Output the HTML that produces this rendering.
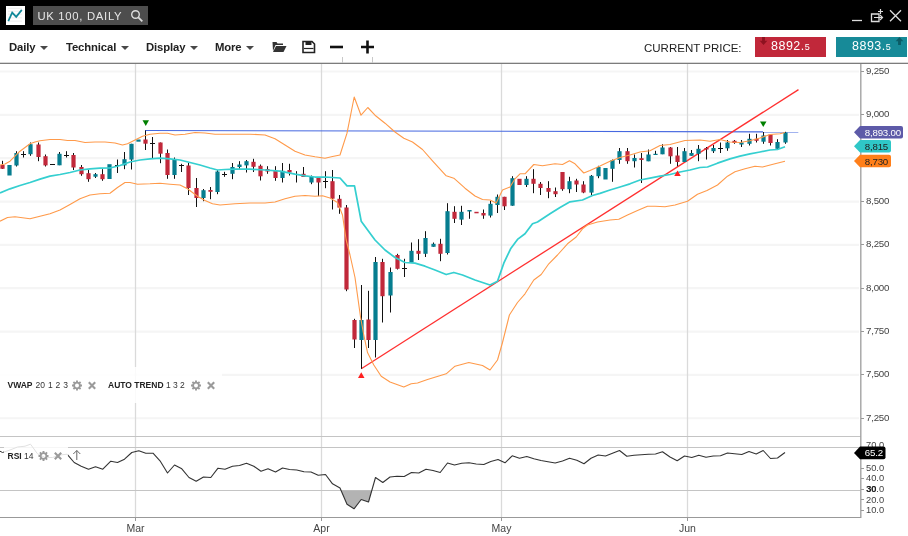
<!DOCTYPE html>
<html lang="en"><head><meta charset="utf-8"><title>UK 100, DAILY</title>
<style>
html,body{margin:0;padding:0;background:#fff;}
body{width:908px;height:536px;position:relative;overflow:hidden;font-family:"Liberation Sans",sans-serif;}
#hdr{position:absolute;left:0;top:0;width:908px;height:30px;background:#000;}
#logo{position:absolute;left:6px;top:6px;width:18.8px;height:18.8px;background:#fff;}
#sym{position:absolute;left:33px;top:6px;width:114.7px;height:18.8px;background:#4d4d4d;color:#e6e6e6;font-size:11.3px;line-height:21px;letter-spacing:0.7px;}
#sym span{position:absolute;left:4.4px;top:0;white-space:nowrap;}
#tb{position:absolute;left:0;top:30px;width:908px;height:32px;background:#fff;border-bottom:1px solid #d8d8d8;}
#tb:after{content:'';position:absolute;left:0;top:33px;width:908px;height:1px;background:#7c7c7c;}
.mi{position:absolute;top:9.6px;letter-spacing:-0.12px;font-size:11.3px;font-weight:bold;color:#222;white-space:nowrap;line-height:14px;}
.mi i{display:inline-block;width:0;height:0;border-left:4.4px solid transparent;border-right:4.4px solid transparent;border-top:4.4px solid #484848;margin-left:4.6px;vertical-align:1px;}
#cp{position:absolute;left:644px;top:11px;font-size:11.5px;color:#222;letter-spacing:0;white-space:nowrap;line-height:14px;}
.btn{position:absolute;top:6.7px;height:20px;color:#fff;font-size:12.5px;line-height:20px;white-space:nowrap;letter-spacing:0.5px;}
.btn small{font-size:9px;}
.lbl{position:absolute;font-size:8.5px;color:#333;white-space:nowrap;line-height:12px;}
.lbl b{color:#222;}
</style></head><body>
<svg id="chart" width="908" height="536" viewBox="0 0 908 536" style="position:absolute;left:0;top:0">
<g stroke="#f5f5f5" stroke-width="2.2">
<line x1="0" y1="418.24" x2="859" y2="418.24"/>
<line x1="0" y1="374.9" x2="859" y2="374.9"/>
<line x1="0" y1="331.56" x2="859" y2="331.56"/>
<line x1="0" y1="288.21" x2="859" y2="288.21"/>
<line x1="0" y1="244.87" x2="859" y2="244.87"/>
<line x1="0" y1="201.53" x2="859" y2="201.53"/>
<line x1="0" y1="158.19" x2="859" y2="158.19"/>
<line x1="0" y1="114.84" x2="859" y2="114.84"/>
<line x1="0" y1="71.5" x2="859" y2="71.5"/>
</g>
<g stroke="#dadada" stroke-width="1.3">
<line x1="135.5" y1="64" x2="135.5" y2="518"/>
<line x1="321.5" y1="64" x2="321.5" y2="518"/>
<line x1="501.5" y1="64" x2="501.5" y2="518"/>
<line x1="687.5" y1="64" x2="687.5" y2="518"/>
</g>
<g stroke="#c4c4c4" stroke-width="1" shape-rendering="crispEdges">
<line x1="0" y1="436.5" x2="861" y2="436.5"/>
<line x1="0" y1="447.5" x2="861" y2="447.5"/>
<line x1="0" y1="490.5" x2="861" y2="490.5"/>
</g>
<g stroke="#999" stroke-width="1" shape-rendering="crispEdges">
</g><line x1="860.8" y1="64" x2="860.8" y2="518" stroke="#a4a4a4" stroke-width="1.4"/><g stroke="#999" stroke-width="1" shape-rendering="crispEdges">
<line x1="0" y1="517.5" x2="861" y2="517.5"/>
<line x1="135.5" y1="517" x2="135.5" y2="521"/>
<line x1="321.5" y1="517" x2="321.5" y2="521"/>
<line x1="501.5" y1="517" x2="501.5" y2="521"/>
<line x1="687.5" y1="517" x2="687.5" y2="521"/>
<line x1="861" y1="418.5" x2="863.5" y2="418.5"/>
<line x1="861" y1="374.5" x2="863.5" y2="374.5"/>
<line x1="861" y1="331.5" x2="863.5" y2="331.5"/>
<line x1="861" y1="288.5" x2="863.5" y2="288.5"/>
<line x1="861" y1="244.5" x2="863.5" y2="244.5"/>
<line x1="861" y1="201.5" x2="863.5" y2="201.5"/>
<line x1="861" y1="158.5" x2="863.5" y2="158.5"/>
<line x1="861" y1="114.5" x2="863.5" y2="114.5"/>
<line x1="861" y1="71.5" x2="863.5" y2="71.5"/>
<line x1="861" y1="510.5" x2="863.5" y2="510.5"/>
<line x1="861" y1="499.5" x2="863.5" y2="499.5"/>
<line x1="861" y1="489.5" x2="863.5" y2="489.5"/>
<line x1="861" y1="478.5" x2="863.5" y2="478.5"/>
<line x1="861" y1="468.5" x2="863.5" y2="468.5"/>
</g>
<line x1="145" y1="130.5" x2="798.3" y2="131.9" stroke="#4668e0" stroke-width="1.15"/>
<line x1="361.25" y1="368.75" x2="798.5" y2="89.6" stroke="#ff3030" stroke-width="1.3"/>
<g>
<line x1="2.5" y1="160.8" x2="2.5" y2="169.0" stroke="#111" stroke-width="1"/>
<rect x="0.4" y="165.0" width="4.2" height="3.8" fill="#c1283a"/>
<rect x="7.4" y="165.0" width="4.2" height="10.5" fill="#067d8f"/>
<line x1="16.5" y1="151.2" x2="16.5" y2="166.5" stroke="#111" stroke-width="1"/>
<rect x="14.4" y="153.0" width="4.2" height="12.5" fill="#067d8f"/>
<line x1="23.5" y1="151.2" x2="23.5" y2="157.5" stroke="#111" stroke-width="1"/>
<line x1="21.0" y1="154.5" x2="26.0" y2="154.5" stroke="#111" stroke-width="1"/>
<line x1="30.5" y1="142.5" x2="30.5" y2="155.8" stroke="#111" stroke-width="1"/>
<rect x="28.4" y="144.2" width="4.2" height="10.0" fill="#067d8f"/>
<line x1="38.5" y1="142.5" x2="38.5" y2="161.2" stroke="#111" stroke-width="1"/>
<rect x="36.4" y="144.5" width="4.2" height="12.5" fill="#c1283a"/>
<line x1="45.5" y1="154.5" x2="45.5" y2="166.5" stroke="#111" stroke-width="1"/>
<rect x="43.4" y="156.2" width="4.2" height="9.2" fill="#c1283a"/>
<line x1="50.0" y1="164.5" x2="55.0" y2="164.5" stroke="#111" stroke-width="1"/>
<line x1="59.5" y1="152.0" x2="59.5" y2="165.2" stroke="#111" stroke-width="1"/>
<rect x="57.4" y="153.8" width="4.2" height="11.5" fill="#067d8f"/>
<line x1="66.5" y1="151.2" x2="66.5" y2="157.5" stroke="#111" stroke-width="1"/>
<line x1="64.0" y1="155.5" x2="69.0" y2="155.5" stroke="#111" stroke-width="1"/>
<line x1="73.5" y1="153.0" x2="73.5" y2="170.0" stroke="#111" stroke-width="1"/>
<rect x="71.4" y="155.0" width="4.2" height="12.5" fill="#c1283a"/>
<line x1="81.5" y1="165.0" x2="81.5" y2="175.8" stroke="#111" stroke-width="1"/>
<rect x="79.4" y="167.0" width="4.2" height="7.2" fill="#c1283a"/>
<line x1="88.5" y1="170.0" x2="88.5" y2="181.8" stroke="#111" stroke-width="1"/>
<rect x="86.4" y="173.2" width="4.2" height="6.0" fill="#c1283a"/>
<line x1="95.5" y1="173.0" x2="95.5" y2="178.0" stroke="#111" stroke-width="1"/>
<rect x="93.4" y="174.2" width="4.2" height="2.5" fill="#067d8f"/>
<line x1="102.5" y1="169.2" x2="102.5" y2="180.8" stroke="#111" stroke-width="1"/>
<rect x="100.4" y="174.2" width="4.2" height="5.0" fill="#c1283a"/>
<rect x="107.4" y="164.2" width="4.2" height="14.8" fill="#067d8f"/>
<line x1="117.5" y1="159.5" x2="117.5" y2="173.0" stroke="#111" stroke-width="1"/>
<line x1="115.0" y1="165.5" x2="120.0" y2="165.5" stroke="#111" stroke-width="1"/>
<line x1="124.5" y1="152.0" x2="124.5" y2="169.2" stroke="#111" stroke-width="1"/>
<rect x="122.4" y="159.2" width="4.2" height="6.2" fill="#067d8f"/>
<line x1="131.5" y1="143.8" x2="131.5" y2="169.5" stroke="#111" stroke-width="1"/>
<rect x="129.4" y="143.8" width="4.2" height="15.8" fill="#067d8f"/>
<rect x="136.4" y="139.5" width="4.2" height="2.2" fill="#067d8f"/>
<line x1="145.5" y1="130.5" x2="145.5" y2="150.0" stroke="#111" stroke-width="1"/>
<rect x="143.4" y="139.5" width="4.2" height="4.2" fill="#c1283a"/>
<line x1="152.5" y1="137.0" x2="152.5" y2="158.2" stroke="#111" stroke-width="1"/>
<line x1="150.0" y1="143.5" x2="155.0" y2="143.5" stroke="#111" stroke-width="1"/>
<line x1="160.5" y1="142.5" x2="160.5" y2="163.2" stroke="#111" stroke-width="1"/>
<rect x="158.4" y="142.5" width="4.2" height="11.2" fill="#c1283a"/>
<line x1="167.5" y1="149.5" x2="167.5" y2="178.8" stroke="#111" stroke-width="1"/>
<rect x="165.4" y="153.0" width="4.2" height="22.0" fill="#c1283a"/>
<line x1="174.5" y1="157.5" x2="174.5" y2="178.8" stroke="#111" stroke-width="1"/>
<rect x="172.4" y="159.2" width="4.2" height="15.8" fill="#067d8f"/>
<line x1="181.5" y1="163.8" x2="181.5" y2="172.0" stroke="#111" stroke-width="1"/>
<line x1="179.0" y1="165.5" x2="184.0" y2="165.5" stroke="#111" stroke-width="1"/>
<line x1="188.5" y1="163.0" x2="188.5" y2="195.0" stroke="#111" stroke-width="1"/>
<rect x="186.4" y="165.5" width="4.2" height="22.5" fill="#c1283a"/>
<line x1="196.5" y1="178.0" x2="196.5" y2="207.0" stroke="#111" stroke-width="1"/>
<rect x="194.4" y="188.0" width="4.2" height="10.0" fill="#c1283a"/>
<line x1="203.5" y1="189.0" x2="203.5" y2="201.2" stroke="#111" stroke-width="1"/>
<rect x="201.4" y="190.2" width="4.2" height="7.8" fill="#067d8f"/>
<line x1="210.5" y1="187.0" x2="210.5" y2="199.2" stroke="#111" stroke-width="1"/>
<rect x="208.4" y="190.0" width="4.2" height="1.8" fill="#c1283a"/>
<line x1="217.5" y1="170.0" x2="217.5" y2="194.2" stroke="#111" stroke-width="1"/>
<rect x="215.4" y="171.5" width="4.2" height="20.5" fill="#067d8f"/>
<line x1="224.5" y1="171.8" x2="224.5" y2="176.8" stroke="#111" stroke-width="1"/>
<line x1="222.0" y1="174.5" x2="227.0" y2="174.5" stroke="#111" stroke-width="1"/>
<line x1="232.5" y1="163.0" x2="232.5" y2="179.2" stroke="#111" stroke-width="1"/>
<rect x="230.4" y="167.0" width="4.2" height="6.8" fill="#067d8f"/>
<line x1="239.5" y1="161.2" x2="239.5" y2="168.8" stroke="#111" stroke-width="1"/>
<rect x="237.4" y="164.5" width="4.2" height="2.5" fill="#067d8f"/>
<line x1="246.5" y1="160.0" x2="246.5" y2="172.5" stroke="#111" stroke-width="1"/>
<rect x="244.4" y="161.2" width="4.2" height="4.2" fill="#067d8f"/>
<line x1="253.5" y1="158.8" x2="253.5" y2="172.0" stroke="#111" stroke-width="1"/>
<rect x="251.4" y="161.8" width="4.2" height="5.0" fill="#c1283a"/>
<line x1="260.5" y1="164.5" x2="260.5" y2="180.5" stroke="#111" stroke-width="1"/>
<rect x="258.4" y="165.8" width="4.2" height="10.5" fill="#c1283a"/>
<line x1="267.5" y1="166.2" x2="267.5" y2="173.8" stroke="#111" stroke-width="1"/>
<rect x="265.4" y="169.0" width="4.2" height="2.5" fill="#c1283a"/>
<line x1="275.5" y1="166.2" x2="275.5" y2="180.8" stroke="#111" stroke-width="1"/>
<rect x="273.4" y="170.8" width="4.2" height="7.2" fill="#c1283a"/>
<line x1="282.5" y1="163.0" x2="282.5" y2="182.5" stroke="#111" stroke-width="1"/>
<rect x="280.4" y="170.8" width="4.2" height="7.2" fill="#067d8f"/>
<line x1="289.5" y1="163.8" x2="289.5" y2="175.5" stroke="#111" stroke-width="1"/>
<rect x="287.4" y="170.0" width="4.2" height="2.5" fill="#c1283a"/>
<line x1="296.5" y1="171.2" x2="296.5" y2="182.5" stroke="#111" stroke-width="1"/>
<line x1="303.5" y1="167.0" x2="303.5" y2="177.0" stroke="#111" stroke-width="1"/>
<rect x="301.4" y="173.8" width="4.2" height="3.2" fill="#c1283a"/>
<line x1="311.5" y1="175.5" x2="311.5" y2="184.2" stroke="#111" stroke-width="1"/>
<rect x="309.4" y="177.0" width="4.2" height="5.5" fill="#067d8f"/>
<line x1="318.5" y1="177.5" x2="318.5" y2="196.2" stroke="#111" stroke-width="1"/>
<rect x="316.4" y="177.5" width="4.2" height="5.0" fill="#c1283a"/>
<line x1="325.5" y1="171.2" x2="325.5" y2="188.2" stroke="#111" stroke-width="1"/>
<line x1="323.0" y1="181.5" x2="328.0" y2="181.5" stroke="#111" stroke-width="1"/>
<line x1="332.5" y1="170.0" x2="332.5" y2="209.5" stroke="#111" stroke-width="1"/>
<rect x="330.4" y="181.2" width="4.2" height="17.5" fill="#c1283a"/>
<line x1="339.5" y1="195.0" x2="339.5" y2="213.8" stroke="#111" stroke-width="1"/>
<rect x="337.4" y="198.8" width="4.2" height="8.8" fill="#c1283a"/>
<line x1="346.5" y1="205.0" x2="346.5" y2="291.2" stroke="#111" stroke-width="1"/>
<rect x="344.4" y="207.5" width="4.2" height="82.0" fill="#c1283a"/>
<line x1="354.5" y1="318.8" x2="354.5" y2="348.0" stroke="#111" stroke-width="1"/>
<rect x="352.4" y="320.0" width="4.2" height="19.5" fill="#c1283a"/>
<line x1="361.5" y1="285.0" x2="361.5" y2="368.8" stroke="#111" stroke-width="1"/>
<rect x="359.4" y="320.0" width="4.2" height="20.0" fill="#067d8f"/>
<line x1="368.5" y1="290.8" x2="368.5" y2="348.0" stroke="#111" stroke-width="1"/>
<rect x="366.4" y="319.5" width="4.2" height="20.5" fill="#c1283a"/>
<line x1="375.5" y1="257.0" x2="375.5" y2="357.5" stroke="#111" stroke-width="1"/>
<rect x="373.4" y="262.0" width="4.2" height="78.0" fill="#067d8f"/>
<line x1="382.5" y1="258.8" x2="382.5" y2="322.5" stroke="#111" stroke-width="1"/>
<rect x="380.4" y="262.0" width="4.2" height="34.2" fill="#c1283a"/>
<line x1="390.5" y1="267.5" x2="390.5" y2="312.5" stroke="#111" stroke-width="1"/>
<rect x="388.4" y="272.0" width="4.2" height="23.5" fill="#067d8f"/>
<line x1="397.5" y1="253.8" x2="397.5" y2="269.5" stroke="#111" stroke-width="1"/>
<rect x="395.4" y="255.0" width="4.2" height="13.8" fill="#c1283a"/>
<line x1="404.5" y1="258.8" x2="404.5" y2="277.0" stroke="#111" stroke-width="1"/>
<line x1="402.0" y1="268.5" x2="407.0" y2="268.5" stroke="#111" stroke-width="1"/>
<line x1="411.5" y1="242.5" x2="411.5" y2="262.5" stroke="#111" stroke-width="1"/>
<rect x="409.4" y="250.8" width="4.2" height="11.8" fill="#067d8f"/>
<line x1="418.5" y1="239.2" x2="418.5" y2="260.0" stroke="#111" stroke-width="1"/>
<rect x="416.4" y="250.8" width="4.2" height="3.0" fill="#c1283a"/>
<line x1="425.5" y1="231.2" x2="425.5" y2="257.0" stroke="#111" stroke-width="1"/>
<rect x="423.4" y="238.0" width="4.2" height="15.8" fill="#067d8f"/>
<line x1="433.5" y1="242.5" x2="433.5" y2="246.8" stroke="#111" stroke-width="1"/>
<rect x="431.4" y="243.8" width="4.2" height="3.0" fill="#067d8f"/>
<line x1="440.5" y1="238.8" x2="440.5" y2="261.2" stroke="#111" stroke-width="1"/>
<rect x="438.4" y="243.8" width="4.2" height="10.0" fill="#c1283a"/>
<line x1="447.5" y1="203.2" x2="447.5" y2="254.5" stroke="#111" stroke-width="1"/>
<rect x="445.4" y="211.2" width="4.2" height="41.8" fill="#067d8f"/>
<line x1="454.5" y1="206.2" x2="454.5" y2="223.0" stroke="#111" stroke-width="1"/>
<rect x="452.4" y="211.8" width="4.2" height="7.0" fill="#c1283a"/>
<line x1="461.5" y1="205.8" x2="461.5" y2="225.0" stroke="#111" stroke-width="1"/>
<rect x="459.4" y="211.8" width="4.2" height="7.8" fill="#067d8f"/>
<line x1="469.5" y1="210.0" x2="469.5" y2="218.8" stroke="#111" stroke-width="1"/>
<rect x="467.4" y="210.0" width="4.2" height="1.5" fill="#067d8f"/>
<rect x="474.4" y="211.8" width="4.2" height="1.5" fill="#c1283a"/>
<line x1="483.5" y1="209.5" x2="483.5" y2="218.8" stroke="#111" stroke-width="1"/>
<rect x="481.4" y="213.0" width="4.2" height="2.5" fill="#c1283a"/>
<line x1="490.5" y1="200.8" x2="490.5" y2="217.5" stroke="#111" stroke-width="1"/>
<rect x="488.4" y="203.8" width="4.2" height="11.8" fill="#067d8f"/>
<line x1="497.5" y1="194.5" x2="497.5" y2="213.0" stroke="#111" stroke-width="1"/>
<rect x="495.4" y="196.8" width="4.2" height="8.2" fill="#067d8f"/>
<line x1="504.5" y1="196.8" x2="504.5" y2="210.0" stroke="#111" stroke-width="1"/>
<rect x="502.4" y="196.8" width="4.2" height="9.5" fill="#c1283a"/>
<line x1="512.5" y1="176.2" x2="512.5" y2="205.8" stroke="#111" stroke-width="1"/>
<rect x="510.4" y="178.2" width="4.2" height="27.5" fill="#067d8f"/>
<rect x="517.4" y="178.8" width="4.2" height="6.2" fill="#c1283a"/>
<line x1="526.5" y1="176.2" x2="526.5" y2="187.0" stroke="#111" stroke-width="1"/>
<rect x="524.4" y="178.8" width="4.2" height="6.2" fill="#067d8f"/>
<line x1="533.5" y1="169.2" x2="533.5" y2="193.2" stroke="#111" stroke-width="1"/>
<rect x="531.4" y="178.8" width="4.2" height="5.0" fill="#c1283a"/>
<line x1="540.5" y1="182.0" x2="540.5" y2="195.0" stroke="#111" stroke-width="1"/>
<rect x="538.4" y="183.8" width="4.2" height="4.2" fill="#c1283a"/>
<line x1="548.5" y1="181.2" x2="548.5" y2="198.2" stroke="#111" stroke-width="1"/>
<rect x="546.4" y="188.0" width="4.2" height="3.8" fill="#c1283a"/>
<line x1="555.5" y1="187.5" x2="555.5" y2="197.0" stroke="#111" stroke-width="1"/>
<rect x="553.4" y="191.2" width="4.2" height="3.0" fill="#c1283a"/>
<line x1="562.5" y1="172.0" x2="562.5" y2="190.8" stroke="#111" stroke-width="1"/>
<rect x="560.4" y="172.0" width="4.2" height="17.2" fill="#c1283a"/>
<line x1="569.5" y1="176.8" x2="569.5" y2="193.2" stroke="#111" stroke-width="1"/>
<rect x="567.4" y="181.2" width="4.2" height="8.0" fill="#067d8f"/>
<line x1="576.5" y1="178.8" x2="576.5" y2="192.0" stroke="#111" stroke-width="1"/>
<rect x="574.4" y="180.5" width="4.2" height="4.0" fill="#c1283a"/>
<line x1="583.5" y1="181.2" x2="583.5" y2="193.2" stroke="#111" stroke-width="1"/>
<rect x="581.4" y="184.5" width="4.2" height="8.0" fill="#c1283a"/>
<line x1="591.5" y1="175.0" x2="591.5" y2="195.0" stroke="#111" stroke-width="1"/>
<rect x="589.4" y="175.8" width="4.2" height="16.8" fill="#067d8f"/>
<line x1="598.5" y1="165.8" x2="598.5" y2="178.2" stroke="#111" stroke-width="1"/>
<rect x="596.4" y="167.0" width="4.2" height="9.2" fill="#067d8f"/>
<rect x="603.4" y="168.0" width="4.2" height="11.5" fill="#067d8f"/>
<line x1="612.5" y1="159.5" x2="612.5" y2="181.8" stroke="#111" stroke-width="1"/>
<rect x="610.4" y="160.0" width="4.2" height="8.8" fill="#067d8f"/>
<line x1="619.5" y1="148.0" x2="619.5" y2="163.8" stroke="#111" stroke-width="1"/>
<rect x="617.4" y="151.2" width="4.2" height="8.8" fill="#067d8f"/>
<line x1="627.5" y1="148.0" x2="627.5" y2="163.8" stroke="#111" stroke-width="1"/>
<rect x="625.4" y="151.2" width="4.2" height="10.0" fill="#c1283a"/>
<line x1="634.5" y1="154.5" x2="634.5" y2="167.5" stroke="#111" stroke-width="1"/>
<rect x="632.4" y="158.0" width="4.2" height="3.2" fill="#067d8f"/>
<line x1="641.5" y1="153.0" x2="641.5" y2="183.0" stroke="#111" stroke-width="1"/>
<rect x="639.4" y="158.2" width="4.2" height="1.8" fill="#c1283a"/>
<line x1="648.5" y1="149.5" x2="648.5" y2="161.2" stroke="#111" stroke-width="1"/>
<rect x="646.4" y="154.5" width="4.2" height="6.8" fill="#067d8f"/>
<line x1="655.5" y1="150.8" x2="655.5" y2="155.0" stroke="#111" stroke-width="1"/>
<rect x="653.4" y="153.8" width="4.2" height="1.2" fill="#067d8f"/>
<line x1="662.5" y1="144.2" x2="662.5" y2="154.2" stroke="#111" stroke-width="1"/>
<rect x="660.4" y="147.5" width="4.2" height="6.8" fill="#067d8f"/>
<line x1="670.5" y1="147.0" x2="670.5" y2="163.8" stroke="#111" stroke-width="1"/>
<rect x="668.4" y="147.5" width="4.2" height="8.8" fill="#c1283a"/>
<line x1="677.5" y1="147.0" x2="677.5" y2="166.2" stroke="#111" stroke-width="1"/>
<rect x="675.4" y="155.5" width="4.2" height="6.5" fill="#c1283a"/>
<line x1="684.5" y1="148.0" x2="684.5" y2="162.0" stroke="#111" stroke-width="1"/>
<rect x="682.4" y="151.2" width="4.2" height="10.8" fill="#067d8f"/>
<line x1="691.5" y1="150.0" x2="691.5" y2="155.8" stroke="#111" stroke-width="1"/>
<rect x="689.4" y="153.0" width="4.2" height="2.8" fill="#067d8f"/>
<line x1="698.5" y1="145.0" x2="698.5" y2="161.2" stroke="#111" stroke-width="1"/>
<rect x="696.4" y="148.8" width="4.2" height="5.0" fill="#067d8f"/>
<line x1="706.5" y1="147.0" x2="706.5" y2="159.5" stroke="#111" stroke-width="1"/>
<rect x="704.4" y="148.0" width="4.2" height="1.5" fill="#c1283a"/>
<line x1="713.5" y1="145.0" x2="713.5" y2="153.0" stroke="#111" stroke-width="1"/>
<rect x="711.4" y="148.0" width="4.2" height="3.2" fill="#067d8f"/>
<line x1="720.5" y1="142.5" x2="720.5" y2="153.0" stroke="#111" stroke-width="1"/>
<line x1="718.0" y1="148.5" x2="723.0" y2="148.5" stroke="#111" stroke-width="1"/>
<line x1="727.5" y1="140.0" x2="727.5" y2="150.8" stroke="#111" stroke-width="1"/>
<rect x="725.4" y="142.5" width="4.2" height="5.8" fill="#067d8f"/>
<line x1="734.5" y1="140.0" x2="734.5" y2="143.8" stroke="#111" stroke-width="1"/>
<rect x="732.4" y="140.8" width="4.2" height="2.2" fill="#c1283a"/>
<line x1="741.5" y1="140.0" x2="741.5" y2="147.0" stroke="#111" stroke-width="1"/>
<rect x="739.4" y="142.5" width="4.2" height="2.0" fill="#067d8f"/>
<line x1="749.5" y1="133.8" x2="749.5" y2="145.5" stroke="#111" stroke-width="1"/>
<rect x="747.4" y="138.8" width="4.2" height="5.0" fill="#067d8f"/>
<line x1="756.5" y1="133.8" x2="756.5" y2="142.5" stroke="#111" stroke-width="1"/>
<rect x="754.4" y="138.8" width="4.2" height="2.0" fill="#c1283a"/>
<line x1="763.5" y1="132.0" x2="763.5" y2="143.8" stroke="#111" stroke-width="1"/>
<rect x="761.4" y="135.5" width="4.2" height="6.2" fill="#067d8f"/>
<line x1="770.5" y1="134.5" x2="770.5" y2="145.5" stroke="#111" stroke-width="1"/>
<rect x="768.4" y="134.5" width="4.2" height="8.5" fill="#c1283a"/>
<line x1="777.5" y1="139.2" x2="777.5" y2="150.0" stroke="#111" stroke-width="1"/>
<rect x="775.4" y="142.0" width="4.2" height="6.8" fill="#067d8f"/>
<line x1="785.5" y1="131.8" x2="785.5" y2="143.8" stroke="#111" stroke-width="1"/>
<rect x="783.4" y="132.5" width="4.2" height="10.0" fill="#067d8f"/>
</g>
<path d="M0.0,165.0 L5.0,164.0 L10.0,161.2 L15.0,156.2 L20.0,151.2 L25.0,147.5 L30.0,143.8 L35.0,142.0 L40.0,140.8 L50.0,139.5 L60.0,139.5 L67.5,140.5 L75.0,140.5 L85.0,142.5 L95.0,142.0 L105.0,142.0 L115.0,143.0 L122.5,145.0 L127.5,143.8 L135.0,140.0 L142.5,136.2 L150.0,134.2 L160.0,133.2 L167.5,133.2 L175.0,135.0 L185.0,134.2 L195.0,132.5 L205.0,133.0 L215.0,134.2 L225.0,134.2 L235.0,134.2 L250.0,134.2 L265.0,135.0 L275.0,138.8 L285.0,145.0 L295.0,151.2 L305.0,155.0 L315.0,156.8 L320.0,157.5 L325.0,158.2 L332.5,156.5 L340.0,155.0 L347.0,133.2 L354.2,97.0 L361.0,115.2 L367.8,107.5 L375.0,115.2 L385.0,123.2 L395.0,132.0 L403.8,138.2 L412.5,142.0 L422.5,149.5 L432.5,160.8 L446.2,175.8 L453.8,178.2 L465.0,188.2 L475.0,196.0 L482.5,199.5 L490.0,200.0 L496.2,203.0 L502.5,190.0 L510.0,187.0 L515.0,178.8 L520.0,173.8 L525.0,173.8 L533.8,164.5 L542.5,165.8 L555.0,163.8 L562.5,164.5 L569.5,160.8 L575.0,163.8 L583.8,173.0 L590.0,170.5 L600.0,166.0 L610.0,161.2 L620.0,157.5 L630.0,155.0 L640.0,152.0 L650.0,150.8 L660.0,145.5 L670.0,144.5 L685.0,140.5 L700.0,140.0 L710.0,141.2 L720.0,139.5 L730.0,142.0 L740.0,142.5 L750.0,140.8 L760.0,138.0 L770.0,134.5 L780.0,133.8 L785.0,132.5" fill="none" stroke="#ff9a4a" stroke-width="1.1" stroke-linejoin="round"/>
<path d="M0.0,221.2 L7.5,217.5 L15.0,216.8 L30.0,218.8 L40.0,216.2 L50.0,213.8 L60.0,210.0 L70.0,204.5 L80.0,198.8 L90.0,195.0 L100.0,193.8 L110.0,193.2 L117.5,187.5 L125.0,182.5 L130.0,182.5 L137.5,184.2 L150.0,183.8 L160.0,183.2 L170.0,184.2 L180.0,185.0 L187.5,188.8 L197.5,196.2 L205.0,200.5 L212.5,203.8 L220.0,205.0 L235.0,203.8 L250.0,203.0 L265.0,203.0 L275.0,202.0 L285.0,198.8 L295.0,196.2 L305.0,195.5 L315.0,196.2 L322.5,195.8 L330.0,198.0 L337.5,202.5 L342.5,215.0 L346.2,240.0 L350.0,255.0 L355.0,277.5 L360.6,317.5 L363.8,335.0 L367.5,352.5 L373.8,365.0 L381.2,376.2 L390.0,382.0 L403.8,387.0 L411.2,383.8 L417.5,383.0 L427.5,379.5 L446.2,373.8 L455.0,366.2 L468.8,362.5 L482.5,365.5 L490.0,370.0 L497.5,360.0 L502.5,342.5 L509.4,315.0 L517.5,302.5 L525.0,293.8 L533.8,280.0 L541.2,274.5 L548.8,263.8 L557.5,255.0 L567.5,243.8 L576.2,237.0 L582.5,228.8 L587.5,225.0 L597.5,222.0 L610.0,220.0 L618.8,219.2 L627.5,215.0 L637.5,210.5 L647.5,206.2 L655.0,206.2 L665.0,206.8 L675.0,205.0 L687.5,201.2 L697.5,194.2 L707.0,190.5 L717.5,185.0 L727.5,176.2 L735.0,171.8 L745.0,168.8 L755.0,166.2 L762.5,167.0 L775.0,163.8 L785.0,161.2" fill="none" stroke="#ff9a4a" stroke-width="1.1" stroke-linejoin="round"/>
<path d="M0.0,193.0 L10.0,188.8 L20.0,185.5 L30.0,182.5 L40.0,179.2 L50.0,176.2 L60.0,174.5 L70.0,172.5 L80.0,170.0 L90.0,168.8 L100.0,168.2 L110.0,168.0 L120.0,165.5 L130.0,162.0 L140.0,160.0 L150.0,158.8 L160.0,158.2 L170.0,158.8 L180.0,160.0 L190.0,162.5 L200.0,165.0 L210.0,168.0 L217.5,170.0 L225.0,169.5 L235.0,169.2 L250.0,169.2 L265.0,170.0 L280.0,171.2 L295.0,174.2 L305.0,175.8 L315.0,177.0 L325.0,177.0 L340.0,178.0 L347.0,185.8 L354.5,185.8 L361.2,221.2 L375.0,240.0 L385.0,250.0 L395.0,257.5 L405.0,262.5 L415.0,263.2 L425.0,266.2 L435.0,270.0 L446.2,274.5 L453.8,272.5 L462.5,275.0 L475.0,280.0 L490.0,285.0 L497.5,281.2 L503.8,263.2 L510.6,248.8 L517.5,239.4 L525.0,233.8 L532.5,223.8 L537.5,222.0 L550.0,213.8 L560.0,207.5 L570.0,201.8 L582.5,200.0 L592.5,195.5 L600.0,193.4 L610.0,190.0 L620.0,187.0 L630.0,183.8 L640.0,180.0 L650.0,178.2 L660.0,176.2 L670.0,174.5 L680.0,172.0 L690.0,170.0 L700.0,167.5 L707.5,167.0 L717.5,163.2 L730.0,158.8 L740.0,156.2 L750.0,153.8 L760.0,152.0 L770.0,150.0 L777.5,149.5 L785.0,146.8" fill="none" stroke="#35cfd0" stroke-width="1.75" stroke-linejoin="round"/>
<path d="M142.5,120.3 L149.0,120.3 L145.75,126 Z" fill="#008000"/>
<path d="M760.0,121.5 L766.5,121.5 L763.25,127 Z" fill="#008000"/>
<path d="M358.0,378 L364.5,378 L361.25,372.3 Z" fill="#ff2020"/>
<path d="M674.25,176 L680.75,176 L677.5,170.5 Z" fill="#ff2020"/>
<path d="M341.1,490.5 L347.0,504.2 L354.0,508.8 L361.2,499.5 L368.5,502.0 L371.8,490.5 Z" fill="#b3b3b3"/>
<path d="M0.0,451.2 L2.5,452.5 L10.0,450.0 L17.5,447.0 L25.0,446.2 L30.5,444.2 L37.5,453.8 L45.0,457.5 L52.5,457.5 L60.0,455.0 L67.0,454.2" fill="none" stroke="#333" stroke-width="1"/>
<path d="M67.0,454.2 L74.2,462.5 L81.2,466.2 L88.5,469.2 L95.5,466.8 L102.8,469.2 L110.8,461.2 L117.5,462.5 L124.5,459.2 L131.8,452.5 L138.8,450.8 L145.8,453.2 L153.0,453.2 L160.0,460.8 L167.5,473.0 L174.5,465.0 L181.8,468.8 L189.0,477.5 L196.2,481.2 L203.5,477.0 L210.8,477.5 L218.0,468.2 L225.0,469.2 L232.5,466.2 L239.5,465.5 L246.5,463.2 L253.8,466.2 L261.0,471.2 L268.0,468.8 L275.5,472.0 L282.5,468.0 L289.5,469.5 L296.8,470.0 L304.0,471.8 L311.0,472.0 L318.2,475.2 L325.5,474.5 L332.5,483.8 L340.0,488.0 L347.0,504.2 L354.0,508.8 L361.2,499.5 L368.5,502.0 L375.5,477.5 L382.8,482.5 L390.0,477.0 L397.0,476.2 L404.2,476.5 L411.5,472.5 L418.8,473.0 L426.0,469.2 L433.0,470.5 L440.2,472.5 L447.5,463.0 L454.5,465.0 L461.8,463.2 L469.0,462.8 L476.2,464.0 L483.8,464.5 L490.8,461.5 L498.0,459.5 L505.0,462.8 L512.2,455.8 L519.5,458.2 L526.8,456.5 L533.8,458.8 L541.0,460.5 L548.0,461.8 L555.2,463.0 L562.5,461.0 L569.5,458.2 L576.8,460.2 L584.0,463.8 L591.0,458.2 L598.2,455.0 L605.5,456.0 L612.5,453.2 L619.5,450.5 L626.8,456.2 L634.0,455.2 L648.5,454.2 L655.5,454.0 L662.5,451.8 L670.0,457.0 L677.2,460.8 L684.5,456.0 L691.8,457.5 L698.8,455.2 L706.0,457.2 L713.2,456.0 L720.5,455.8 L727.5,453.0 L734.5,453.8 L741.8,454.5 L749.0,451.5 L756.2,454.0 L763.2,450.5 L770.5,458.5 L777.5,458.0 L785.0,452.5" fill="none" stroke="#333" stroke-width="1.1" stroke-linejoin="round"/>
<g font-family="Liberation Sans, sans-serif" font-size="9.7" fill="#444" letter-spacing="-0.2">
<text x="866" y="420.7">7,250</text>
<text x="866" y="377.4">7,500</text>
<text x="866" y="334.1">7,750</text>
<text x="866" y="290.7">8,000</text>
<text x="866" y="247.4">8,250</text>
<text x="866" y="204.0">8,500</text>
<text x="866" y="160.7">8,750</text>
<text x="866" y="117.3">9,000</text>
<text x="866" y="74.0">9,250</text>
<text x="866" y="513.0" font-size="9.3" letter-spacing="0">10.0</text>
<text x="866" y="502.5" font-size="9.3" letter-spacing="0">20.0</text>
<text x="866" y="491.9" font-size="9.3" letter-spacing="0">30.0</text>
<text x="866" y="481.4" font-size="9.3" letter-spacing="0">40.0</text>
<text x="866" y="470.8" font-size="9.3" letter-spacing="0">50.0</text>
<text x="866" y="448.3" font-size="9.3" letter-spacing="0">70.0</text>
<text x="866.2" y="491.9" font-size="9.3" letter-spacing="0" font-weight="bold" fill="#222">30</text>
<text x="135.5" y="532.4" font-size="10.5" letter-spacing="0" text-anchor="middle">Mar</text>
<text x="321.5" y="532.4" font-size="10.5" letter-spacing="0" text-anchor="middle">Apr</text>
<text x="501.5" y="532.4" font-size="10.5" letter-spacing="0" text-anchor="middle">May</text>
<text x="687.5" y="532.4" font-size="10.5" letter-spacing="0" text-anchor="middle">Jun</text>
</g>
<path d="M854,132.3 L860,126.0 L901,126.0 Q903,126.0 903,128.0 L903,136.6 Q903,138.6 901,138.6 L860,138.6 Z" fill="#5d5aa8"/>
<text x="864.8" y="135.8" font-family="Liberation Sans, sans-serif" font-size="9.7" letter-spacing="-0.2" fill="#fff">8,893.00</text>
<path d="M854,146.2 L860,139.9 L889,139.9 Q891,139.9 891,141.9 L891,150.5 Q891,152.5 889,152.5 L860,152.5 Z" fill="#2fc7c7"/>
<text x="864.8" y="149.7" font-family="Liberation Sans, sans-serif" font-size="9.7" letter-spacing="-0.2" fill="#222">8,815</text>
<path d="M854,161.0 L860,154.7 L889,154.7 Q891,154.7 891,156.7 L891,165.3 Q891,167.3 889,167.3 L860,167.3 Z" fill="#ff7f1a"/>
<text x="864.8" y="164.5" font-family="Liberation Sans, sans-serif" font-size="9.7" letter-spacing="-0.2" fill="#222">8,730</text>
<path d="M854,452.9 L860,446.6 L883.5,446.6 Q885.5,446.6 885.5,448.6 L885.5,457.2 Q885.5,459.2 883.5,459.2 L860,459.2 Z" fill="#000"/>
<text x="864.8" y="456.4" font-family="Liberation Sans, sans-serif" font-size="9.7" letter-spacing="-0.2" fill="#fff">65.2</text>
</svg>
<div id="hdr">
 <div id="logo"><svg width="19" height="19" viewBox="0 0 19 19" style="position:absolute;left:0;top:0"><path d="M2,2.3 H16 M2,5.2 H16 M2,8.2 H16 M2,11.8 H16 M2,15.1 H16" stroke="#e9e9e9" stroke-width="0.8"/><path d="M2.3,15.1 L6.2,6.6 L10.2,10.9 L15.8,3.9" fill="none" stroke="#118899" stroke-width="1.7" stroke-linejoin="miter"/></svg></div>
 <div id="sym"><span>UK 100, DAILY</span>
  <svg style="position:absolute;left:96.5px;top:2.5px" width="14" height="14" viewBox="0 0 14 14"><circle cx="5.5" cy="5.5" r="3.8" fill="none" stroke="#ddd" stroke-width="1.4"/><path d="M8.3,8.3 L12.3,12.3" stroke="#ddd" stroke-width="1.8"/></svg>
 </div>
 <svg style="position:absolute;left:847.5px;top:6.5px" width="60" height="20" viewBox="0 0 60 20">
  <path d="M4,13.5 H14" stroke="#ddd" stroke-width="1.3"/>
  <g transform="translate(-1,-0.5)"><path d="M24.5,7.5 H32 V15 H24.5 Z" fill="none" stroke="#ddd" stroke-width="1.3"/><path d="M27,11 H35 M33,8.5 L35.5,11 L33,13.5" fill="none" stroke="#ddd" stroke-width="1.2"/><path d="M33.5,2.5 V7.5 M31,5 H36" stroke="#ddd" stroke-width="1.2"/></g>
  <path d="M42,3.2 L53,14.2 M53,3.2 L42,14.2" stroke="#ddd" stroke-width="1.3"/>
 </svg>
</div>
<div id="tb">
 <div class="mi" style="left:9px">Daily<i></i></div>
 <div class="mi" style="left:66px">Technical<i></i></div>
 <div class="mi" style="left:146px">Display<i></i></div>
 <div class="mi" style="left:215px">More<i></i></div>
 <svg style="position:absolute;left:270px;top:8px" width="110" height="18" viewBox="0 0 110 18">
  <path d="M2.5,4 H6.5 L7.5,5.5 H13 V7 H5.5 L3,13 Z" fill="#333"/><path d="M6,8 H16.5 L13.5,14 H3 Z" fill="#333"/>
  <path d="M33,3.5 H42 L44.5,6 V14.5 H33 Z" fill="none" stroke="#222" stroke-width="1.6"/><path d="M35.5,3.5 H41.5 V7 H35.5 Z" fill="#222"/><path d="M34,10.5 H43.5" stroke="#222" stroke-width="1.2"/>
  <path d="M60,9 H73" stroke="#111" stroke-width="2.6"/>
  <path d="M91,9 H104 M97.5,2.5 V15.5" stroke="#111" stroke-width="2.6"/>
 </svg>
 <div style="position:absolute;left:342px;top:27px;width:1px;height:6px;background:#c8c8c8"></div>
 <div style="position:absolute;left:372px;top:27px;width:1px;height:6px;background:#c8c8c8"></div>
 <div id="cp">CURRENT PRICE:</div>
 <div class="btn" style="left:755px;width:71px;background:#c1283a"><span style="position:absolute;left:16px;top:-1px">8892.<small>5</small></span>
  <svg style="position:absolute;left:4px;top:0.3px" width="9" height="8.6" viewBox="0 0 9 9"><path d="M3,0 H6 V4 H8.5 L4.5,8.5 L0.5,4 H3 Z" fill="#8e1220"/></svg></div>
 <div class="btn" style="left:836px;width:71px;background:#178a98"><span style="position:absolute;left:16px;top:-1px">8893.<small>5</small></span>
  <svg style="position:absolute;left:58.5px;top:0.3px" width="9" height="8.6" viewBox="0 0 9 9"><path d="M3,8.5 H6 V4.5 H8.5 L4.5,0 L0.5,4.5 H3 Z" fill="#0b5c66"/></svg></div>
</div>
<div style="position:absolute;left:0;top:367px;width:222px;height:36px;background:rgba(255,255,255,0.85)"></div>
<div class="lbl" style="left:7.5px;top:379px;word-spacing:0.6px"><b>VWAP</b> 20 1 2 3</div>
<div class="lbl" style="left:108px;top:379px"><b>AUTO TREND</b> 1 3 2</div>
<div style="position:absolute;left:4px;top:438px;width:64px;height:21px;background:rgba(255,255,255,0.85)"></div>
<div class="lbl" style="left:7.5px;top:449.5px"><b>RSI</b> 14</div>
<svg style="position:absolute;left:0;top:0" width="908" height="536" viewBox="0 0 908 536">
 <defs>
  <g id="gear"><circle r="2.9" fill="none" stroke="#9a9a9a" stroke-width="1.8"/><g stroke="#9a9a9a" stroke-width="1.9"><path d="M0,-5 V-3 M0,5 V3 M-5,0 H-3 M5,0 H3 M-3.55,-3.55 L-2.2,-2.2 M3.55,3.55 L2.2,2.2 M-3.55,3.55 L-2.2,2.2 M3.55,-3.55 L2.2,-2.2"/></g></g>
  <g id="xx"><path d="M-3.2,-3.2 L3.2,3.2 M3.2,-3.2 L-3.2,3.2" stroke="#9a9a9a" stroke-width="2.1"/></g>
 </defs>
 <use href="#gear" x="77" y="385.5"/><use href="#xx" x="92" y="385.5"/>
 <use href="#gear" x="196" y="385.5"/><use href="#xx" x="211" y="385.5"/>
 <use href="#gear" x="43.5" y="456"/><use href="#xx" x="58" y="456"/>
 <path d="M76.8,450.5 V460 M73.3,454 L76.8,450.5 L80.3,454" fill="none" stroke="#666" stroke-width="1"/>
</svg>
</body></html>
